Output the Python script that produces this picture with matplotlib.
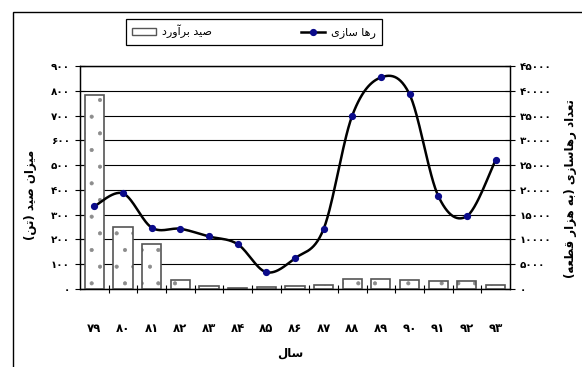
import numpy as np
import matplotlib.pyplot as plt
from matplotlib.patches import Rectangle
from matplotlib.lines import Line2D

plt.rcParams['font.family'] = ['DejaVu Sans']
plt.rcParams['hatch.linewidth'] = 0.5

years = ['۷۹', '۸۰', '۸۱', '۸۲', '۸۳', '۸۴', '۸۵', '۸۶', '۸۷', '۸۸', '۸۹', '۹۰', '۹۱', '۹۲', '۹۳']
catch = [785, 252, 180, 36, 11, 4, 10, 11, 16, 42, 42, 36, 32, 32, 15]
release = [16700, 19300, 12400, 12150, 10600, 9060, 3400, 6200, 12100,
           35000, 42700, 39300, 18800, 14700, 26000]
left_ticks = list(range(0, 901, 100))
right_ticks = list(range(0, 45001, 5000))

# presentation forms: isolated, final, initial, medial
FORMS = {
    'ا': (0xFE8D, 0xFE8E, None, None),
    'آ': (0xFE81, 0xFE82, None, None),
    'ب': (0xFE8F, 0xFE90, 0xFE91, 0xFE92),
    'ت': (0xFE95, 0xFE96, 0xFE97, 0xFE98),
    'د': (0xFEA9, 0xFEAA, None, None),
    'ر': (0xFEAD, 0xFEAE, None, None),
    'ز': (0xFEAF, 0xFEB0, None, None),
    'س': (0xFEB1, 0xFEB2, 0xFEB3, 0xFEB4),
    'ص': (0xFEB9, 0xFEBA, 0xFEBB, 0xFEBC),
    'ط': (0xFEC1, 0xFEC2, 0xFEC3, 0xFEC4),
    'ع': (0xFEC9, 0xFECA, 0xFECB, 0xFECC),
    'ق': (0xFED5, 0xFED6, 0xFED7, 0xFED8),
    'ل': (0xFEDD, 0xFEDE, 0xFEDF, 0xFEE0),
    'م': (0xFEE1, 0xFEE2, 0xFEE3, 0xFEE4),
    'ن': (0xFEE5, 0xFEE6, 0xFEE7, 0xFEE8),
    'ه': (0xFEE9, 0xFEEA, 0xFEEB, 0xFEEC),
    'و': (0xFEED, 0xFEEE, None, None),
    'ی': (0xFEEF, 0xFEF0, 0xFEF3, 0xFEF4),
}


def fa(text):
    """Shape Persian letters and put them in visual (left-to-right) order."""
    out = []
    for i, ch in enumerate(text):
        if ch not in FORMS:
            out.append(ch)
            continue
        prev = text[i - 1] if i > 0 else ''
        nxt = text[i + 1] if i + 1 < len(text) else ''
        f = FORMS[ch]
        join_prev = prev in FORMS and FORMS[prev][2] is not None
        join_next = f[2] is not None and nxt in FORMS
        if join_prev and join_next:
            code = f[3]
        elif join_prev:
            code = f[1]
        elif join_next:
            code = f[2]
        else:
            code = f[0]
        out.append(chr(code))
    vis = ''.join(reversed(out))
    return vis.translate(str.maketrans('()', ')('))


def fa_digits(n):
    return str(n).translate(str.maketrans('0123456789', '۰۱۲۳۴۵۶۷۸۹'))


def smooth(xs, ys, n=30):
    # cubic bezier through every point, tangents from the neighbouring points
    x = np.asarray(xs, float)
    y = np.asarray(ys, float)
    px = np.concatenate([[x[0]], x, [x[-1]]])
    py = np.concatenate([[y[0]], y, [y[-1]]])
    t = np.linspace(0, 1, n)[:, None]
    pts = []
    for i in range(len(x) - 1):
        p0 = np.array([px[i], py[i]])
        p1 = np.array([px[i + 1], py[i + 1]])
        p2 = np.array([px[i + 2], py[i + 2]])
        p3 = np.array([px[i + 3], py[i + 3]])
        c1 = p1 + (p2 - p0) / 6
        c2 = p2 - (p3 - p1) / 6
        seg = ((1 - t) ** 3) * p1 + 3 * ((1 - t) ** 2) * t * c1 + 3 * (1 - t) * t ** 2 * c2 + t ** 3 * p2
        pts.append(seg if i == 0 else seg[1:])
    pts = np.vstack(pts)
    return pts[:, 0], pts[:, 1]


fig = plt.figure(figsize=(5.82, 3.67), dpi=100)
ax = fig.add_axes([0.1375, 0.2125, 0.7385, 0.6075])
ax2 = ax.twinx()

x = np.arange(len(years))
bar_ec = '#555555'
dot_c = '#8c8c8c'
# dotted fill first, then the outline on top
ax.bar(x, catch, width=0.67, color='white', edgecolor=dot_c, linewidth=0, hatch='.', zorder=3)
ax.bar(x, catch, width=0.67, fill=False, edgecolor=bar_ec, linewidth=1.2, zorder=3)

ax.set_xlim(-0.5, len(years) - 0.5)
ax.set_ylim(0, 900)
ax.set_yticks(left_ticks)
ax.set_yticklabels([fa_digits(v) for v in left_ticks], fontsize=7.5, fontweight='bold')
ax.yaxis.grid(True, color='black', linewidth=0.8)
ax.set_axisbelow(True)

ax.set_xticks(x)
ax.set_xticklabels(years, fontsize=8.5, fontweight='bold')
ax.set_xticks(np.arange(0.5, len(years) - 1, 1), minor=True)
ax.tick_params(axis='x', which='major', length=0, pad=24)
ax.tick_params(axis='x', which='minor', direction='inout', length=6, width=0.8)
ax.tick_params(axis='y', direction='inout', length=6.5, width=0.8, pad=4)

sx, sy = smooth(x, release)
ax2.plot(sx, sy, color='black', linewidth=1.8, zorder=4)
ax2.plot(x, release, linestyle='none', marker='o', markersize=4.2,
         color='#0b0b8a', zorder=5)
ax2.set_ylim(0, 45000)
ax2.set_yticks(right_ticks)
ax2.set_yticklabels([fa_digits(v) for v in right_ticks], fontsize=7.5, fontweight='bold')
ax2.tick_params(axis='y', direction='inout', length=6.5, width=0.8, pad=4)

for a in (ax, ax2):
    for s in a.spines.values():
        s.set_linewidth(0.9)
        s.set_color('black')

fig.text(0.052, 0.47, fa('میزان صید (تن)'), rotation=90, ha='center', va='center',
         fontsize=8.5, fontweight='bold')
fig.text(0.981, 0.487, fa('تعداد رهاسازی (به هزار قطعه)'), rotation=90, ha='center',
         va='center', fontsize=8.5, fontweight='bold')
fig.text(0.498, 0.038, fa('سال'), ha='center', va='center', fontsize=8.5, fontweight='bold')

bar_handle = Rectangle((0, 0), 1, 1, facecolor='white', edgecolor=bar_ec, linewidth=1.0)
line_handle = Line2D([], [], color='black', linewidth=1.8, marker='o', markersize=4.2,
                     markerfacecolor='#0b0b8a', markeredgecolor='#0b0b8a')
leg = fig.legend([bar_handle, line_handle], [fa('صید برآورد'), fa('رها سازی')],
                 ncol=2, loc='center', bbox_to_anchor=(0.4356, 0.914),
                 frameon=True, fancybox=False, edgecolor='black', framealpha=1,
                 fontsize=8, columnspacing=8, handlelength=2.2, handleheight=0.6,
                 handletextpad=0.5, borderpad=0.55)
leg.get_frame().set_linewidth(0.9)

fig.add_artist(Rectangle((13 / 582, -0.1), 1.0, 1.1 - 12 / 367, transform=fig.transFigure,
                         fill=False, edgecolor='black', linewidth=1.0))

fig.savefig('out.png', dpi=100)
